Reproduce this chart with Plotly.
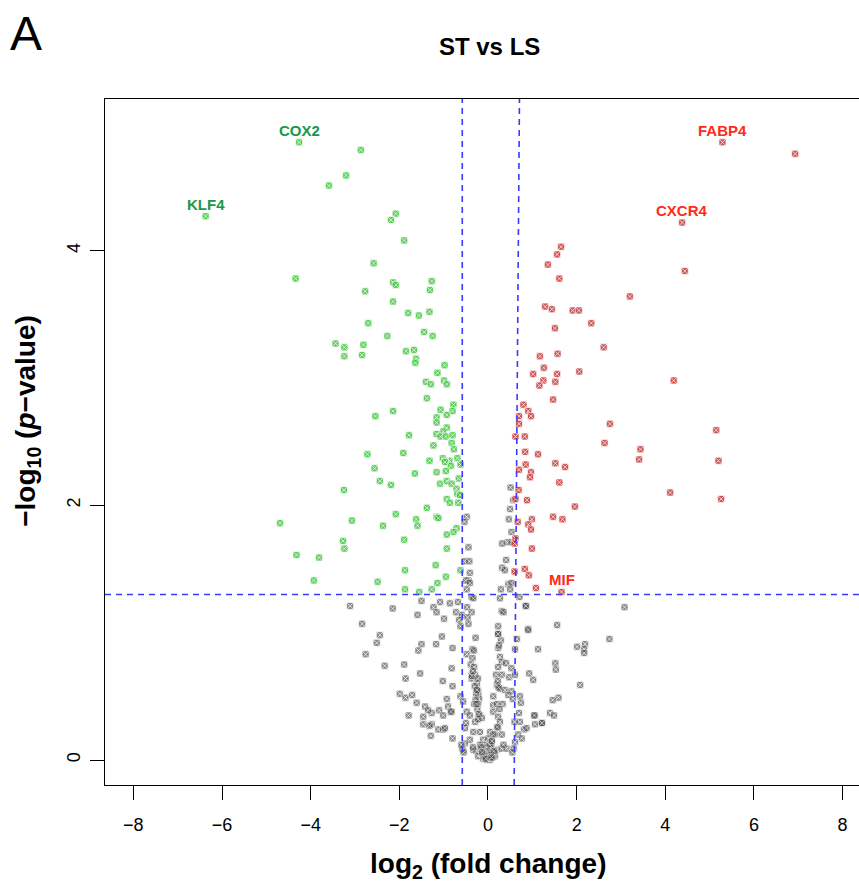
import plotly.graph_objects as go

# ---------------- data (log2 fold change, -log10 p) ----------------
green_x = [-4.26, -2.87, -3.20, -3.59, -6.37, -2.08, -2.19, -1.89, -2.58, -4.34, -2.14, -2.08, -1.27, -1.31,
           -2.77, -2.14, -1.80, -1.56, -1.32, -2.70, -1.44, -1.25, -2.27, -3.44, -3.24, -2.81, -3.24, -2.84,
           -1.85, -1.67, -1.62, -1.64, -0.98, -1.14, -1.40, -1.29, -0.99, -0.93, -1.38, -0.78, -1.07, -0.80,
           -2.14, -2.54, -0.93, -1.16, -1.16, -0.93, -1.01, -1.16, -1.07, -0.95, -0.80, -1.78, -0.82, -1.23,
           -0.77, -1.91, -2.72, -1.32, -1.02, -0.87, -0.69, -0.62, -0.97, -0.84, -2.56, -1.16, -0.95, -1.65,
           -0.66, -2.44, -2.19, -1.08, -0.93, -0.82, -3.25, -0.71, -0.69, -0.63, -0.93, -0.86, -0.67, -1.38,
           -2.08, -1.16, -1.12, -4.69, -3.07, -1.62, -1.59, -2.37, -0.71, -0.78, -0.93, -3.27, -1.89, -3.24,
           -0.93, -4.32, -3.81, -1.87, -1.18, -0.62, -0.95, -3.93, -2.49, -1.14, -1.87, -1.55, -1.27]
green_y = [4.85, 4.79, 4.59, 4.51, 4.27, 4.29, 4.24, 4.08, 3.90, 3.78, 3.75, 3.73, 3.76, 3.69,
           3.68, 3.60, 3.51, 3.49, 3.52, 3.43, 3.36, 3.33, 3.33, 3.27, 3.24, 3.26, 3.17, 3.18,
           3.21, 3.22, 3.15, 3.12, 3.10, 3.04, 2.97, 2.95, 2.98, 2.95, 2.84, 2.79, 2.75, 2.74,
           2.74, 2.70, 2.71, 2.69, 2.65, 2.61, 2.58, 2.56, 2.54, 2.54, 2.55, 2.55, 2.49, 2.47,
           2.44, 2.41, 2.40, 2.35, 2.37, 2.35, 2.37, 2.32, 2.34, 2.31, 2.29, 2.26, 2.27, 2.25,
           2.21, 2.19, 2.16, 2.17, 2.19, 2.17, 2.12, 2.13, 2.09, 2.08, 2.05, 2.02, 2.02, 1.98,
           1.93, 1.91, 1.90, 1.86, 1.88, 1.89, 1.84, 1.84, 1.82, 1.79, 1.77, 1.72, 1.73, 1.66,
           1.66, 1.61, 1.59, 1.49, 1.53, 1.49, 1.44, 1.41, 1.40, 1.39, 1.34, 1.32, 1.34]

red_x = [5.29, 6.93, 4.38, 1.65, 1.56, 1.35, 4.44, 1.61, 3.20, 1.29, 1.44, 1.91, 2.05, 2.33, 1.51,
         2.61, 1.17, 1.57, 1.26, 1.02, 1.56, 2.06, 1.25, 1.16, 1.52, 4.19, 1.47, 0.80, 0.91, 0.97,
         0.70, 0.70, 2.75, 5.15, 0.62, 0.83, 2.63, 3.44, 3.41, 5.20, 0.84, 1.13, 0.85, 1.52, 1.74,
         0.70, 0.97, 0.95, 1.61, 4.11, 5.26, 0.69, 0.62, 0.88, 1.96, 1.47, 1.68, 0.67, 0.99, 0.91,
         0.97, 0.62, 0.60, 0.99, 0.60, 0.83, 0.92, 1.08, 1.66]
red_y = [4.85, 4.76, 4.22, 4.03, 3.97, 3.89, 3.84, 3.78, 3.64, 3.56, 3.54, 3.53, 3.53, 3.43, 3.39,
         3.24, 3.17, 3.19, 3.08, 3.03, 3.03, 3.05, 2.98, 2.94, 2.97, 2.98, 2.83, 2.79, 2.74, 2.70,
         2.70, 2.64, 2.64, 2.59, 2.54, 2.54, 2.49, 2.44, 2.36, 2.35, 2.42, 2.40, 2.32, 2.33, 2.30,
         2.28, 2.26, 2.22, 2.18, 2.10, 2.05, 2.12, 2.05, 2.04, 1.99, 1.91, 1.89, 1.87, 1.89, 1.85,
         1.81, 1.74, 1.70, 1.66, 1.48, 1.50, 1.45, 1.35, 1.32]

gray_x = [0.51, 0.57, 0.50, 0.47, 0.53, 0.44, 0.32, 0.53, -0.48, -0.53, -0.44, -0.53, -0.42, -0.41,
          -0.44, -0.50, -0.41, -0.48, -0.37, -0.33, 0.41, 0.32, 0.38, 0.46, 0.53, 0.50, 0.29, 0.27,
          0.71, -1.08, -1.23, -1.16, -0.86, -0.68, -0.72, -0.59, -0.65, -0.99, -0.47, -0.37, -0.46,
          0.31, 0.35, 0.86, 0.23, 0.90, -0.62, -0.44, 0.91, -1.04, -1.17, -0.80, -0.28, 0.23, 0.29,
          0.65, 1.13, 0.61, 0.23, -0.35, -0.32, -0.48, -0.35, 0.27, 0.31, 0.41, 0.23, -0.39, -0.31,
          -0.82, 0.53, -0.37, -0.29, 0.18, 0.31, 0.48, 0.61, -0.37, -1.02, 0.93, 1.02, -0.80, -0.26,
          -0.22, 0.20, 0.27, 0.38, 0.53, 0.12, -0.22, -0.20, 0.46, 0.56, 0.72, 0.74, -0.93, -0.62,
          -0.56, -0.31, -0.22, 0.12, 0.20, 0.33, -1.10, -0.90, -0.82, -1.27, -0.48, -0.41, -0.18,
          -0.14, -0.29, 0.12, 0.23, 0.27, 0.72, 1.06, 1.21, 1.40, 0.81, 0.87, -1.27, -1.12, -1.01,
          -0.97, -0.80, -0.52, -0.50, -0.33, -0.18, 0.05, 0.16, 0.23, 0.31, 0.68, 0.76, 0.61, -0.41,
          -0.11, -0.52, -0.56, -0.33, -0.26, -0.14, -0.07, 0.01, 0.05, -0.03, 0.12, 0.20, 0.31, 0.42,
          -0.07, 0.05, -0.18, 0.08, 0.12, 0.01, -0.22, -0.11, 0.16, 0.23, 0.25,
          -3.11, -2.15, -1.50, -1.59, -2.84, -2.44, -2.51, -2.76, -1.50, -1.57, -2.33, -1.89, -1.86,
          -1.53, -1.99, -1.86, -1.71, -1.61, -1.42, -1.35, -1.79, -1.46, -1.01, -0.84, -1.46, -1.32,
          -1.29, 3.08, 0.85, 1.56, 2.74, 2.01, 2.19, 2.17, 2.17, 1.52, 1.53, 2.08, 1.59, 1.46, 1.49,
          1.04, 1.06, 1.22, 0.70,
          -0.25, -0.27, -0.24, -0.22, -0.28, -0.30, -0.36, -0.34, 0.22, 0.24, 0.26, 0.21,
          -0.09, -0.04, 0.03, 0.07, -0.12, 0.10, -0.15, 0.15, -0.02, 0.04, -0.06, 0.09,
          -0.23, -0.26, -0.21, -0.25, -0.58, -0.55, -0.60, 0.58, 0.55, 0.60, -0.01, 0.02,
          -0.08, 0.06, -0.13, 0.13, -0.05, 0.08, -0.34, 0.35]
gray_y = [2.14, 2.04, 1.97, 1.89, 1.79, 1.71, 1.70, 1.71, 1.91, 1.87, 1.67, 1.56, 1.56, 1.47,
          1.41, 1.41, 1.39, 1.34, 1.28, 1.27, 1.57, 1.51, 1.49, 1.38, 1.39, 1.34, 1.34, 1.27,
          1.28, 1.24, 1.20, 1.16, 1.23, 1.24, 1.16, 1.14, 1.10, 1.11, 1.20, 1.16, 1.12,
          1.17, 1.16, 1.21, 1.05, 1.03, 1.05, 1.07, 1.02, 0.97, 0.91, 0.88, 0.96, 0.99, 0.94,
          0.95, 0.87, 0.87, 0.88, 0.87, 0.86, 0.83, 0.80, 0.81, 0.77, 0.76, 0.73, 0.75, 0.73,
          0.72, 0.72, 0.67, 0.67, 0.67, 0.67, 0.65, 0.67, 0.64, 0.62, 0.68, 0.63, 0.58, 0.56,
          0.54, 0.59, 0.56, 0.55, 0.54, 0.50, 0.51, 0.48, 0.51, 0.48, 0.50, 0.45, 0.48, 0.50,
          0.46, 0.44, 0.44, 0.43, 0.44, 0.44, 0.39, 0.42, 0.38, 0.37, 0.38, 0.35, 0.35,
          0.33, 0.30, 0.38, 0.34, 0.30, 0.30, 0.35, 0.29, 0.37, 0.24, 0.25, 0.28, 0.24, 0.24,
          0.25, 0.17, 0.25, 0.29, 0.22, 0.22, 0.22, 0.20, 0.25, 0.20, 0.20, 0.17, 0.14, 0.16,
          0.16, 0.13, 0.08, 0.08, 0.07, 0.08, 0.03, 0.03, 0.00, 0.00, 0.04, 0.08, 0.09, 0.09,
          0.12, 0.09, 0.12, 0.14, 0.20, 0.17, 0.03, 0.01, 0.03, 0.99, 0.90,
          1.21, 1.19, 1.25, 1.14, 1.07, 0.98, 0.92, 0.83, 0.91, 0.86, 0.74, 0.75, 0.64,
          0.68, 0.52, 0.49, 0.51, 0.45, 0.42, 0.39, 0.35, 0.34, 0.35, 0.38, 0.28, 0.27,
          0.19, 1.20, 1.21, 1.06, 0.95, 0.89, 0.91, 0.87, 0.84, 0.76, 0.71, 0.59, 0.49, 0.47, 0.35,
          0.35, 0.28, 0.29, 0.37,
          0.60, 0.52, 0.40, 0.32, 0.47, 0.58, 0.66, 0.70, 0.62, 0.57, 0.40, 0.26,
          0.06, 0.10, 0.06, 0.11, 0.05, 0.02, 0.10, 0.06, 0.04, 0.12, 0.02, 0.15,
          0.64, 0.44, 0.36, 0.55, 0.09, 0.06, 0.12, 0.09, 0.06, 0.30, 0.07, 0.05,
          0.03, 0.04, 0.06, 0.07, 0.01, 0.02, 0.10, 0.12]

label_names = ["COX2", "KLF4", "FABP4", "CXCR4", "MIF"]
label_x = [-4.26, -6.37, 5.29, 4.38, 1.66]
label_y = [4.85, 4.27, 4.85, 4.22, 1.32]
label_colors = ["#169a45", "#169a45", "#ff2a1a", "#ff2a1a", "#ff2a1a"]

x_ticks = [-8, -6, -4, -2, 0, 2, 4, 6, 8]
y_ticks = [0, 2, 4]
p_cut = 1.30          # -log10(0.05)
fc_left = -0.58
fc_right_bottom, fc_right_top = 0.59, 0.71

FONT = "Liberation Sans, Arial, sans-serif"

fig = go.Figure()

def add_pts(xs, ys, color, opacity):
    fig.add_trace(go.Scatter(
        x=xs, y=ys, mode="markers", showlegend=False, hoverinfo="skip",
        marker=dict(symbol="square-x", size=7, color=color, opacity=opacity,
                    line=dict(color="rgba(255,255,255,0.9)", width=0.8)),
    ))

add_pts(gray_x, gray_y, "#3a3a3a", 0.6)
add_pts(green_x, green_y, "#33c233", 0.8)
add_pts(red_x, red_y, "#c42a2a", 0.8)

# threshold lines
dash = "6px,5px"
blue = "#3a3aff"
fig.add_shape(type="line", xref="x", yref="paper", x0=fc_left, x1=fc_left, y0=0, y1=1,
              line=dict(color=blue, width=1.6, dash=dash))
fig.add_shape(type="line", xref="x", yref="paper", x0=fc_right_bottom, x1=fc_right_top, y0=0, y1=1,
              line=dict(color=blue, width=1.6, dash=dash))
fig.add_shape(type="line", xref="paper", yref="y", x0=0, x1=1, y0=p_cut, y1=p_cut,
              line=dict(color=blue, width=1.6, dash=dash))

for n, lx, ly, c in zip(label_names, label_x, label_y, label_colors):
    fig.add_annotation(x=lx, y=ly, text=f"<b>{n}</b>", showarrow=False, xanchor="center",
                       yanchor="middle", yshift=12, font=dict(family=FONT, size=15, color=c))

# panel letter
fig.add_annotation(xref="paper", yref="paper", x=-0.105, y=1.096, text="A", showarrow=False,
                   xanchor="center", yanchor="middle", font=dict(family=FONT, size=48, color="black"))
# axis titles
fig.add_annotation(xref="paper", yref="paper", x=0.508, y=-0.117,
                   text="<b>log<sub>2</sub> (fold change)</b>", showarrow=False,
                   xanchor="center", yanchor="middle", font=dict(family=FONT, size=28, color="black"))
fig.add_annotation(xref="paper", yref="paper", x=-0.102, y=0.531,
                   text="<b>\u2212log<sub>10</sub> (<i>p</i>\u2212value)</b>", showarrow=False,
                   textangle=-90, xanchor="center", yanchor="middle",
                   font=dict(family=FONT, size=28, color="black"))

fig.update_layout(
    width=859, height=884,
    margin=dict(l=105, r=0, t=99, b=99),
    paper_bgcolor="white", plot_bgcolor="white",
    title=dict(text="<b>ST vs LS</b>", xref="container", yref="container", x=0.57, y=0.947,
               xanchor="center", yanchor="middle", font=dict(family=FONT, size=24, color="black")),
    font=dict(family=FONT, color="black"),
)
fig.update_xaxes(range=[-8.64, 8.37], tickvals=x_ticks, ticktext=[str(t).replace("-", "\u2212") for t in x_ticks],
                 showgrid=False, zeroline=False, showline=True, linecolor="black", linewidth=1.3,
                 mirror=True, ticks="outside", ticklen=14, tickwidth=1.3, tickcolor="black",
                 ticklabelstandoff=9,
                 tickfont=dict(family=FONT, size=18, color="black"))
fig.update_yaxes(range=[-0.196, 5.19], tickvals=y_ticks, ticktext=[str(t) for t in y_ticks],
                 showgrid=False, zeroline=False, showline=True, linecolor="black", linewidth=1.3,
                 mirror=False, ticks="outside", ticklen=14, tickwidth=1.3, tickcolor="black",
                 ticklabelstandoff=3,
                 tickangle=-90, tickfont=dict(family=FONT, size=18, color="black"))

fig.write_html("out.html")
